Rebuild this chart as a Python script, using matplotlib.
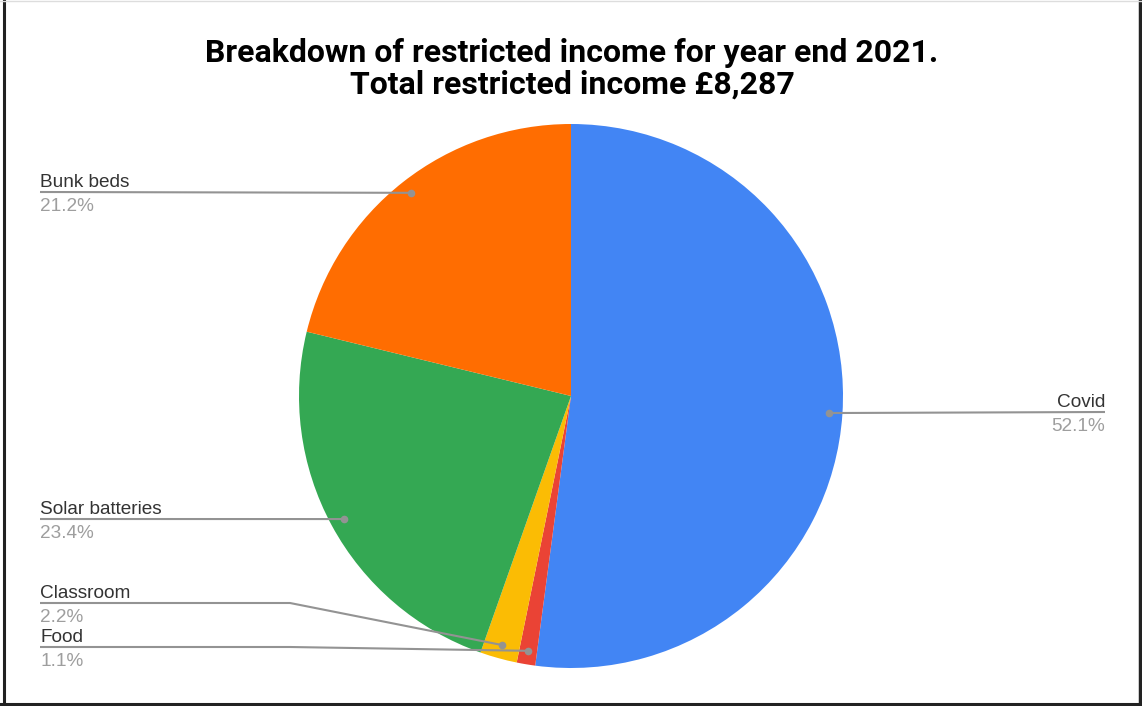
import numpy as np
import matplotlib
matplotlib.use("Agg")
import matplotlib.pyplot as plt
from matplotlib.lines import Line2D

categories = ["Covid", "Food", "Classroom", "Solar batteries", "Bunk beds"]
shares = [52.1, 1.1, 2.2, 23.4, 21.2]
colors = ["#4285F4", "#EA4335", "#FBBC04", "#34A853", "#FF6D01"]
title_lines = ["Breakdown of restricted income for year end 2021.",
               "Total restricted income £8,287"]

W, H = 1142, 706
fig = plt.figure(figsize=(W / 100, H / 100), dpi=100)
ax = fig.add_axes([0, 0, 1, 1])

cx, cy, r = 571, H - 396, 272
wedges, _ = ax.pie(shares, colors=colors, startangle=90, counterclock=False,
                   center=(cx, cy), radius=r, frame=True,
                   wedgeprops=dict(linewidth=0))
ax.set_xlim(0, W)
ax.set_ylim(0, H)
ax.set_aspect("equal")
ax.axis("off")

line_col = "#939393"
name_col = "#333333"
pct_col = "#9e9e9e"
lab_font = "Liberation Sans"
lab_size = 13.7

# label anchor: (text x, line y in image px, horizontal alignment, elbow x or None)
label_layout = {
    "Covid": (1105, 412, "right", None),
    "Bunk beds": (40, 192, "left", None),
    "Solar batteries": (40, 519, "left", None),
    "Classroom": (40, 603, "left", 290),
    "Food": (40, 647, "left", 290),
}

for w, name, val in zip(wedges, categories, shares):
    mid = np.deg2rad((w.theta1 + w.theta2) / 2)
    px = cx + 0.95 * r * np.cos(mid)
    py = cy + 0.95 * r * np.sin(mid)
    tx, ly_img, ha, elbow = label_layout[name]
    ly = H - ly_img
    if elbow is None:
        xs, ys = [tx, px], [ly, py]
    else:
        xs, ys = [tx, elbow, px], [ly, ly, py]
    ax.add_line(Line2D(xs, ys, color=line_col, lw=1.5, solid_capstyle="butt", zorder=3))
    ax.plot([px], [py], "o", color=line_col, ms=5.5, mec="none", zorder=4)
    ax.text(tx, ly + 5, name, ha=ha, va="baseline", fontsize=lab_size,
            color=name_col, family=lab_font)
    ax.text(tx, ly - 6, f"{val:.1f}%", ha=ha, va="top", fontsize=lab_size,
            color=pct_col, family=lab_font)

ax.text(572, H - 53, title_lines[0], ha="center", va="center", fontsize=23,
        fontweight="bold", family="Roboto", color="#000000")
ax.text(572, H - 85, title_lines[1], ha="center", va="center", fontsize=23,
        fontweight="bold", family="Roboto", color="#000000")

# outer frame
ax.add_line(Line2D([4, 4], [0, H], color="#222222", lw=2.2, zorder=5))
ax.add_line(Line2D([1139.5, 1139.5], [0, H], color="#222222", lw=2.5, zorder=5))
ax.add_line(Line2D([0, W], [2.5, 2.5], color="#222222", lw=2.2, zorder=5))
ax.add_line(Line2D([0, W], [H - 0.5, H - 0.5], color="#dddddd", lw=1, zorder=5))

fig.savefig("out.png", dpi=100, facecolor="white")
